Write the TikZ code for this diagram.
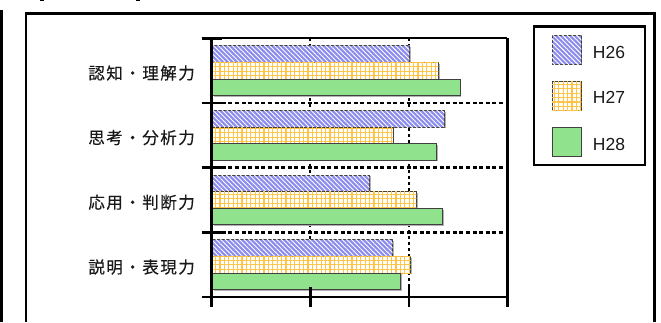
\documentclass[tikz,border=0pt]{standalone}
\usepackage{fontspec}
\setmainfont{Liberation Sans}
\newfontfamily\jpfont[LetterSpace=9,FakeBold=0.4]{Noto Sans CJK JP}
\usetikzlibrary{patterns.meta}
\definecolor{barblue}{RGB}{140,140,238}
\definecolor{gridor}{RGB}{255,196,70}
\definecolor{bargreen}{RGB}{145,226,140}
\definecolor{txt}{RGB}{25,25,25}
\tikzset{
  frameline/.style={line width=2.6pt, black},
  axisline/.style={line width=2.6pt, black},
  hdots/.style={line width=2.4pt, dash pattern=on 4pt off 2.6pt, black},
  vdots/.style={line width=2.2pt, dash pattern=on 3pt off 3pt, black},
  barbox/.style={draw=black!75, line width=0.9pt},
  barshadow/.style={fill=black!30},
  b26/.style={barbox, fill=barblue, postaction={pattern={Lines[angle=-45,distance=3.3pt,line width=0.9pt]}, pattern color=white}},
  b27/.style={barbox, fill=white, postaction={pattern={Hatch[angle=0,distance=4.4pt,line width=1.1pt]}, pattern color=gridor}},
  b28/.style={barbox, fill=bargreen},
  catlabel/.style={anchor=east, inner sep=0pt, text=txt, font=\jpfont\fontsize{16.5}{18}\selectfont},
  leglabel/.style={anchor=west, inner sep=0pt, text=txt, font=\fontsize{17.5}{20}\selectfont},
}
\begin{document}
\begin{tikzpicture}[x=1pt, y=-1pt]
\useasboundingbox (0,0) rectangle (661,322);
% page fragments
\draw[line width=2.4pt] (1.5,10) -- (1.5,322);
\draw[line width=1.2pt] (40,0.5) -- (44,0.5);
\draw[line width=1.2pt] (136,0.5) -- (140,0.5);
% outer frame
\draw[frameline] (26,322) -- (26,13.5) -- (654.5,13.5) -- (654.5,322);
% grid
\draw[vdots] (310.2,38.3) -- (310.2,297);
\draw[vdots] (408.8,38.3) -- (408.8,297);
\foreach \yy in {103,167.6,232.3}
  \draw[hdots] (221.7,\yy) -- (507.3,\yy);
% bars
\foreach \t/\a/\b/\c in {38.3/409.3/438.3/460, 103/444.3/393/436.3, 167.6/369.3/416.3/442.3, 232.3/392.7/410.7/400.7} {
  \fill[barshadow] (214,{\t+8.6}) rectangle ({\a+1.2},{\t+25.2});
  \fill[barshadow] (214,{\t+25.2}) rectangle ({\b+1.2},{\t+41.9});
  \fill[barshadow] (214,{\t+41.9}) rectangle ({\c+1.2},{\t+58.2});
  \path[b26] (212.8,{\t+7.4}) rectangle (\a,{\t+24});
  \path[b27] (212.8,{\t+24}) rectangle (\b,{\t+40.7});
  \path[b28] (212.8,{\t+40.7}) rectangle (\c,{\t+57});
}
% axes and border
\draw[axisline] (211.7,38.3) -- (211.7,307);
\draw[line width=2.2pt] (201.7,38.3) -- (507.3,38.3);
\draw[line width=2.4pt] (507.3,38.3) -- (507.3,307);
\draw[axisline] (201.7,297) -- (507.3,297);
\foreach \yy in {38.3,103,167.6,232.3}
  \draw[axisline] (201.7,\yy) -- (221.7,\yy);
\foreach \xx in {310.2,408.8}
  \draw[axisline] (\xx,287.3) -- (\xx,306.7);
% category labels
\node[catlabel] (c1) at (195,73) {認知・理解力};
\node[catlabel] (c2) at (195,137.6) {思考・分析力};
\node[catlabel] (c3) at (195,202.3) {応用・判断力};
\node[catlabel] (c4) at (195,267) {説明・表現力};
% legend
\draw[frameline] (534,26.7) rectangle (645,165);
\path[b26] (552,35) rectangle (581.3,64.3);
\path[b27] (552,81) rectangle (581.3,110.3);
\path[b28] (552,127.3) rectangle (581.3,156.7);
\node[leglabel] (l1) at (592.7,52) {H26};
\node[leglabel] (l2) at (592.7,97.7) {H27};
\node[leglabel] (l3) at (592.7,144) {H28};
\end{tikzpicture}
\end{document}
